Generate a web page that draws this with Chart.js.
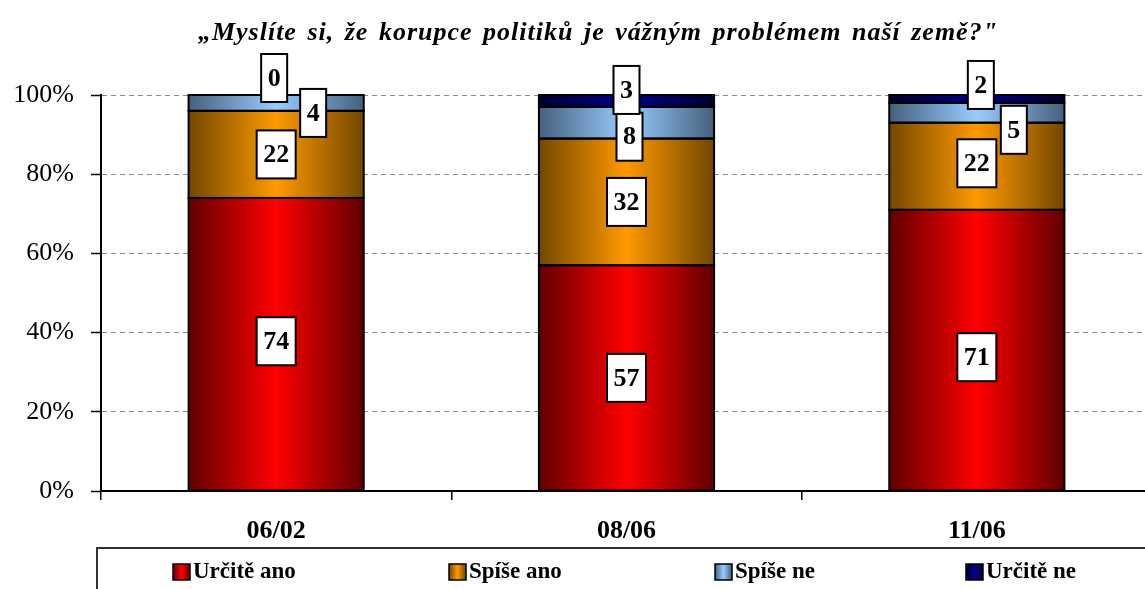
<!DOCTYPE html>
<html lang="cs">
<head>
    <meta charset="UTF-8">
    <title>Korupce politiků</title>
    <script src="https://cdn.jsdelivr.net/npm/chart.js"></script>
    <style>
        html, body { margin: 0; padding: 0; background: #fff; overflow: hidden; }
        canvas { display: block; }
    </style>
</head>
<body>
    <canvas id="chart" width="1152" height="589"></canvas>

    <script>
        // data
        const periods = ['06/02', '08/06', '11/06'];
        const seriesNames = ['Určitě ano', 'Spíše ano', 'Spíše ne', 'Určitě ne'];
        const urciteAno = [74, 57, 71];
        const spiseAno = [22, 32, 22];
        const spiseNe = [4, 8, 5];
        const urciteNe = [0, 3, 2];
        const yTicks = [0, 20, 40, 60, 80, 100];
        const titleText = '„Myslíte si, že korupce politiků je vážným problémem naší země?"';

        // edge / centre colour of each series gradient
        const shades = [
            ['#600000', '#ff0000'],
            ['#724700', '#ff9900'],
            ['#45607d', '#99ccff'],
            ['#00002c', '#00008c']
        ];

        // label nudges (dx, dy) so the small boxes don't overlap
        const labelNudge = [
            [[0, -3], [0, 0], [0, 7]],
            [[0, 0], [0, 0], [0, -3]],
            [[37, 10], [3, 14], [37, 17]],
            [[-2, -17], [0, -11], [4, -14]]
        ];
        const legendX = [173, 449, 715, 966];

        const serif = "'Liberation Serif', 'Times New Roman', serif";

        function barGradient(c, pair) {
            const chart = c.chart;
            const xs = chart.scales.x;
            if (!xs || !chart.chartArea) return pair[1];
            const cx = xs.getPixelForValue(c.dataIndex);
            const half = xs.width / periods.length * 0.5 / 2;
            const g = chart.ctx.createLinearGradient(cx - half, 0, cx + half, 0);
            g.addColorStop(0, pair[0]);
            g.addColorStop(0.5, pair[1]);
            g.addColorStop(1, pair[0]);
            return g;
        }

        const seriesData = [urciteAno, spiseAno, spiseNe, urciteNe];
        const datasets = seriesData.map((d, i) => ({
            label: seriesNames[i],
            data: d,
            backgroundColor: c => barGradient(c, shades[i]),
            borderWidth: 0,
            barPercentage: 0.5,
            categoryPercentage: 1
        }));

        const titlePlugin = {
            id: 'titleText',
            afterDraw(chart) {
                const ctx = chart.ctx;
                ctx.save();
                ctx.font = 'italic bold 26px ' + serif;
                ctx.letterSpacing = '1px';
                ctx.wordSpacing = '3px';
                ctx.fillStyle = '#000';
                ctx.textAlign = 'center';
                ctx.textBaseline = 'alphabetic';
                ctx.fillText(titleText, 598, 40);
                ctx.restore();
            }
        };

        // black outline round every segment
        const segmentOutline = {
            id: 'segmentOutline',
            afterDatasetsDraw(chart) {
                const ctx = chart.ctx;
                ctx.save();
                ctx.lineWidth = 2;
                ctx.strokeStyle = '#000';
                chart.data.datasets.forEach((ds, i) => {
                    chart.getDatasetMeta(i).data.forEach(bar => {
                        const left = bar.x - bar.width / 2;
                        const top = Math.min(bar.y, bar.base);
                        const h = Math.abs(bar.base - bar.y);
                        if (h < 0.5) return;
                        ctx.strokeRect(left, top, bar.width, h);
                    });
                });
                ctx.restore();
            }
        };

        const valueBoxes = {
            id: 'valueBoxes',
            afterDatasetsDraw(chart) {
                const ctx = chart.ctx;
                ctx.save();
                ctx.font = 'bold 26px ' + serif;
                ctx.textAlign = 'center';
                ctx.textBaseline = 'middle';
                chart.data.datasets.forEach((ds, i) => {
                    chart.getDatasetMeta(i).data.forEach((bar, j) => {
                        const txt = String(ds.data[j]);
                        const n = labelNudge[i][j];
                        const cx = bar.x + n[0];
                        const cy = (bar.y + bar.base) / 2 + n[1];
                        const w = ctx.measureText(txt).width + 13;
                        const h = 48;
                        ctx.fillStyle = '#fff';
                        ctx.fillRect(cx - w / 2, cy - h / 2, w, h);
                        ctx.lineWidth = 2;
                        ctx.strokeStyle = '#000';
                        ctx.strokeRect(cx - w / 2, cy - h / 2, w, h);
                        ctx.fillStyle = '#000';
                        ctx.fillText(txt, cx, cy + 1);
                    });
                });
                ctx.restore();
            }
        };

        const boxLegend = {
            id: 'boxLegend',
            afterDraw(chart) {
                const ctx = chart.ctx;
                ctx.save();
                ctx.lineWidth = 2;
                ctx.strokeStyle = '#303030';
                ctx.strokeRect(97, 548, chart.width, 60);
                ctx.font = 'bold 23px ' + serif;
                ctx.textBaseline = 'middle';
                ctx.textAlign = 'left';
                seriesNames.forEach((name, i) => {
                    const x = legendX[i];
                    const g = ctx.createLinearGradient(x, 0, x + 17, 0);
                    g.addColorStop(0, shades[i][0]);
                    g.addColorStop(0.5, shades[i][1]);
                    g.addColorStop(1, shades[i][0]);
                    ctx.fillStyle = g;
                    ctx.fillRect(x, 564, 17, 16);
                    ctx.lineWidth = 1.5;
                    ctx.strokeStyle = '#000';
                    ctx.strokeRect(x, 564, 17, 16);
                    ctx.fillStyle = '#000';
                    ctx.fillText(name, x + 20, 572);
                });
                ctx.restore();
            }
        };

        new Chart(document.getElementById('chart'), {
            type: 'bar',
            data: { labels: periods, datasets: datasets },
            plugins: [titlePlugin, segmentOutline, valueBoxes, boxLegend],
            options: {
                responsive: false,
                animation: false,
                devicePixelRatio: 1,
                layout: { padding: { top: 95, right: 0, bottom: 48, left: 0 } },
                plugins: {
                    legend: { display: false },
                    title: { display: false },
                    tooltip: { enabled: false }
                },
                scales: {
                    x: {
                        stacked: true,
                        offset: true,
                        afterFit: s => { s.height = 50; },
                        grid: {
                            offset: true,
                            drawOnChartArea: false,
                            drawTicks: true,
                            tickLength: 9,
                            color: '#000',
                            lineWidth: 1.5
                        },
                        border: { color: '#000', width: 2 },
                        ticks: {
                            color: '#000',
                            padding: 16,
                            font: { family: serif, size: 26, weight: 'bold' }
                        }
                    },
                    y: {
                        stacked: true,
                        min: 0,
                        max: 100,
                        afterFit: s => { s.width = 101; },
                        afterBuildTicks: s => { s.ticks = yTicks.map(v => ({ value: v })); },
                        grid: {
                            color: '#8a8a8a',
                            lineWidth: 1,
                            tickLength: 10,
                            tickColor: '#000',
                            tickWidth: 1.5,
                            tickBorderDash: []
                        },
                        border: { color: '#000', width: 2, dash: [5, 4] },
                        ticks: {
                            color: '#000',
                            padding: 17,
                            font: { family: serif, size: 26 },
                            callback: v => v + '%'
                        }
                    }
                }
            }
        });
    </script>
</body>
</html>
